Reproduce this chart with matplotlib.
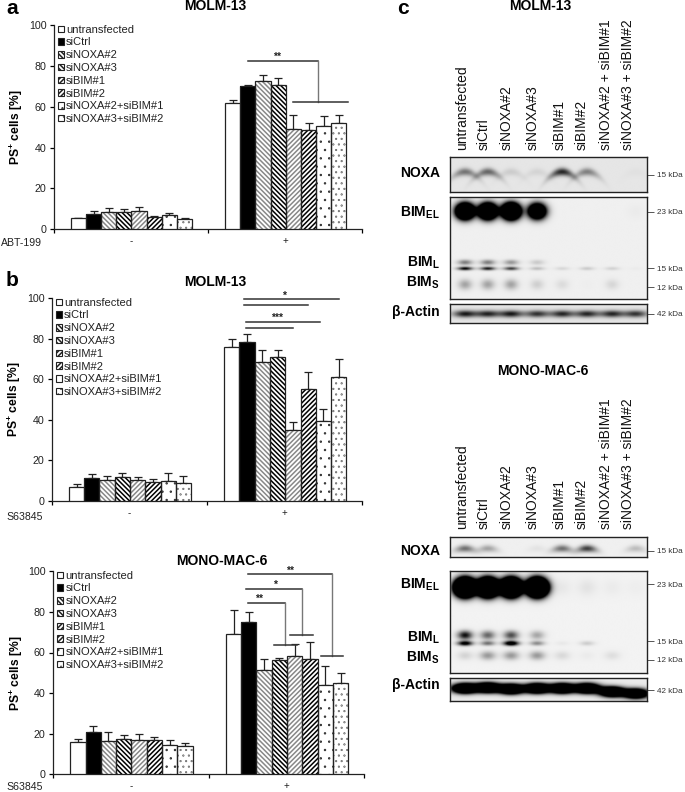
import numpy as np
import matplotlib
matplotlib.use("Agg")
import matplotlib.pyplot as plt
import matplotlib.hatch

plt.rcParams["font.family"] = ["Liberation Sans", "DejaVu Sans"]
plt.rcParams["mathtext.fontset"] = "custom"
plt.rcParams["mathtext.rm"] = "Liberation Sans"
plt.rcParams["mathtext.bf"] = "Liberation Sans:bold"
plt.rcParams["hatch.linewidth"] = 1.1
# the default "." dots are far too fat for this figure
matplotlib.hatch.SmallFilledCircles.size = 0.05

W, H = 685, 792

CONDITIONS = ["untransfected", "siCtrl", "siNOXA#2", "siNOXA#3", "siBIM#1", "siBIM#2",
              "siNOXA#2+siBIM#1", "siNOXA#3+siBIM#2"]
BLOT_LANES = ["untransfected", "siCtrl", "siNOXA#2", "siNOXA#3", "siBIM#1", "siBIM#2",
              "siNOXA#2 + siBIM#1", "siNOXA#3 + siBIM#2"]

# bar values, minus group then plus group
a_minus = [5.2, 7.5, 8.2, 8.2, 8.8, 5.8, 6.8, 4.8]
a_minus_err = [0.3, 1.3, 2.0, 1.8, 1.9, 0.7, 1.3, 0.4]
a_plus = [62, 70, 72.5, 70.5, 49, 48.5, 50.8, 52]
a_plus_err = [1.2, 0.6, 3.3, 3.4, 7, 3.7, 4.5, 3.9]

b_minus = [7, 11, 10.2, 11.7, 10, 9.3, 9.8, 8.5]
b_minus_err = [1.1, 2, 2, 1.9, 1.8, 1.4, 3.8, 3.5]
b_plus = [76, 78.5, 68.5, 71, 35, 55, 39.5, 61]
b_plus_err = [3.7, 4, 6.2, 3.4, 3.7, 8.7, 5.7, 9.2]

m_minus = [16, 20.8, 16.3, 17.2, 16.8, 16.7, 14.5, 13.8]
m_minus_err = [1.2, 2.8, 4.4, 2.4, 3.2, 1.8, 2.5, 1.4]
m_plus = [69, 75, 51.5, 56.3, 58.5, 57, 44, 45]
m_plus_err = [12, 5, 5.5, 1.2, 5.5, 8, 9.3, 4.7]

# blot band strengths per lane
molm_noxa = [0.45, 0.5, 0.1, 0.07, 0.75, 0.4, 0.0, 0.02]
molm_el = [3.8, 3.8, 4.4, 2.8, 0.0, 0.0, 0.0, 0.02]
molm_l_up = [0.45, 0.45, 0.35, 0.15, 0.0, 0.0, 0.0, 0.0]
molm_l = [0.95, 0.85, 0.7, 0.2, 0.1, 0.15, 0.12, 0.02]
molm_s = [0.3, 0.3, 0.3, 0.13, 0.08, 0.01, 0.1, 0.0]
molm_actin = [0.8, 0.75, 0.8, 0.7, 0.75, 0.75, 0.75, 0.7]

mono_noxa = [0.5, 0.3, 0.0, 0.05, 0.5, 0.7, 0.0, 0.2]
mono_el = [6, 6, 6, 6, 0.04, 0.06, 0.03, 0.02]
mono_l_up = [0.9, 0.55, 0.65, 0.3, 0.0, 0.0, 0.0, 0.0]
mono_l = [1.1, 0.5, 1.3, 0.4, 0.04, 0.15, 0.0, 0.0]
mono_s = [0.12, 0.35, 0.35, 0.35, 0.1, 0.03, 0.08, 0.0]
mono_actin = [3, 3, 3, 3, 3, 3, 3, 2.6]
mono_actin_y = [0.45, 0.42, 0.48, 0.45, 0.45, 0.45, 0.6, 0.68]

HATCHES = [None, None, "\\" * 7, "\\" * 7, "/" * 7, "/" * 7, "..", "..."]
HATCH_COLORS = ["white", "black", "#888888", "black", "#888888", "black", "#222222", "#444444"]
FACES = ["white", "black", "white", "white", "white", "white", "white", "white"]
BAR_W = 0.0985
TEXT_COLOR = "#222222"
LANE_X = [0.075, 0.19, 0.308, 0.44, 0.567, 0.693, 0.82, 0.94]

fig = plt.figure(figsize=(W / 100, H / 100), dpi=100)


def px_axes(left, top, right, bottom):
    return fig.add_axes([left / W, 1 - bottom / H, (right - left) / W, (bottom - top) / H])


def px_text(x, y, s, **kw):
    kw.setdefault("va", "center")
    kw.setdefault("ha", "center")
    kw.setdefault("color", "black")
    fig.text(x / W, 1 - y / H, s, **kw)


def draw_bars(ax, center, values, errs):
    for i, (v, e) in enumerate(zip(values, errs)):
        x = center + (i - 3.5) * BAR_W
        ax.errorbar(x, v, yerr=[[0], [e]], color="#222222", lw=0.9, capsize=2.8,
                    capthick=0.9, zorder=2)
        ax.bar(x, v, BAR_W, color=FACES[i], edgecolor=HATCH_COLORS[i], hatch=HATCHES[i],
               linewidth=0, zorder=3)
        ax.bar(x, v, BAR_W, fill=False, edgecolor="#222222", linewidth=0.9, zorder=4)


def bar_panel(box, minus, minus_err, plus, plus_err, treatment, treat_x, treat_y):
    ax = px_axes(*box)
    draw_bars(ax, 0.503, minus, minus_err)
    draw_bars(ax, 1.505, plus, plus_err)
    ax.set_xlim(0, 2)
    ax.set_ylim(0, 100)
    ax.set_yticks([0, 20, 40, 60, 80, 100])
    ax.set_xticks([0, 1, 2])
    ax.set_xticklabels([])
    ax.set_xticks([0.5, 1.5], ["-", "+"], minor=True)
    ax.tick_params(axis="x", which="major", length=3, width=0.9)
    ax.tick_params(axis="x", which="minor", length=0, pad=5, labelsize=7, labelcolor=TEXT_COLOR)
    ax.tick_params(axis="y", length=3, width=0.9, pad=2.5, labelsize=7.7, labelcolor=TEXT_COLOR)
    for side in ["top", "right"]:
        ax.spines[side].set_visible(False)
    for side in ["left", "bottom"]:
        ax.spines[side].set_linewidth(0.9)
        ax.spines[side].set_color("#222222")
    ax.set_ylabel(r"PS$^{\mathbf{+}}$ cells [%]", fontsize=8.7, fontweight="bold", labelpad=2.5)
    handles = [plt.Rectangle((0, 0), 1, 1, facecolor=FACES[i],
                             edgecolor="#222222", hatch=HATCHES[i], linewidth=0.8)
               for i in range(8)]
    ax.legend(handles, CONDITIONS, loc="upper left", bbox_to_anchor=(0.013, 1.003), frameon=False,
              fontsize=8, borderpad=0, borderaxespad=0, handlelength=0.52, handleheight=0.52,
              handletextpad=0.2, labelspacing=0.25, labelcolor=TEXT_COLOR)
    px_text(treat_x, treat_y, treatment, fontsize=7.6, ha="left", color=TEXT_COLOR)
    return ax


def hline(ax, x0, x1, y):
    ax.plot([x0, x1], [y, y], color="#333333", lw=1.1, clip_on=False, zorder=5)


def bracket(ax, x0, x1, y_top, x_drop, x2, x3, y_low):
    hline(ax, x0, x1, y_top)
    ax.plot([x_drop, x_drop], [y_top, y_low], color="#777777", lw=1.0, clip_on=False, zorder=5)
    hline(ax, x2, x3, y_low)


def stars(ax, x, y, s):
    ax.text(x, y, s, ha="center", va="center", fontsize=7.5, fontweight="bold", color="#222222")


def blot_panel(box, bands, bg, ticks):
    ax = px_axes(*box)
    xs = np.linspace(0, 1, 300)
    ys = np.linspace(0, 1, max(40, int((box[3] - box[1]) * 3)))
    xx, yy = np.meshgrid(xs, ys)
    dark = np.zeros_like(xx)
    for strengths, y0, sx, sy, arc in bands:
        for cx, amp, y_lane in zip(LANE_X, strengths, np.broadcast_to(y0, 8)):
            yc = y_lane + arc * ((xx - cx) / sx) ** 2
            dark += amp * np.exp(-((xx - cx) / sx) ** 2 / 2 - ((yy - yc) / sy) ** 2 / 2)
    ax.imshow(np.clip(1 - bg - dark, 0, 1), cmap="gray", vmin=0, vmax=1, aspect="auto",
              extent=[0, 1, 1, 0], interpolation="bilinear")
    ax.set_xticks([])
    ax.yaxis.tick_right()
    ax.set_yticks([t[0] for t in ticks], [t[1] for t in ticks])
    ax.tick_params(axis="y", length=5, width=0.7, color="#555555", pad=2,
                   labelsize=5.9, labelcolor="#333333")
    for s in ax.spines.values():
        s.set_linewidth(1.0)
        s.set_color("#222222")
    return ax


# panel a
ax_a = bar_panel((54, 25.3, 362, 229), a_minus, a_minus_err, a_plus, a_plus_err, "ABT-199", 1, 243)
bracket(ax_a, 1.258, 1.716, 82.6, 1.716, 1.554, 1.907, 62.5)
stars(ax_a, 1.446, 84.5, "**")

# panel b top
ax_b = bar_panel((52, 298.3, 362, 500.7), b_minus, b_minus_err, b_plus, b_plus_err, "S63845", 6, 516.5)
hline(ax_b, 1.241, 1.854, 99.8)
hline(ax_b, 1.241, 1.649, 96.7)
hline(ax_b, 1.250, 1.731, 88.3)
hline(ax_b, 1.250, 1.553, 85.3)
stars(ax_b, 1.494, 101, "*")
stars(ax_b, 1.449, 90.5, "***")

# panel b bottom
ax_m = bar_panel((53.3, 571.3, 364, 774.3), m_minus, m_minus_err, m_plus, m_plus_err, "S63845", 6, 787)
bracket(ax_m, 1.252, 1.794, 98.5, 1.794, 1.721, 1.867, 58.3)
bracket(ax_m, 1.242, 1.601, 91.1, 1.601, 1.526, 1.670, 68.8)
bracket(ax_m, 1.252, 1.492, 84.6, 1.492, 1.423, 1.566, 63.7)
stars(ax_m, 1.522, 100, "**")
stars(ax_m, 1.424, 93.5, "*")
stars(ax_m, 1.321, 86.5, "**")

# blots, MOLM-13
blot_panel((449.7, 156.7, 647.3, 191.7), [(molm_noxa, 0.44, 0.042, 0.075, 0.06)], 0.1,
           [(0.52, "15 kDa")])
blot_panel((449.7, 196.7, 647.3, 299),
           [(molm_el, 0.147, 0.03, 0.05, 0.0), (molm_l_up, 0.645, 0.026, 0.018, 0.0),
            (molm_l, 0.705, 0.026, 0.012, 0.0), (molm_s, 0.86, 0.024, 0.035, 0.0)], 0.06,
           [(0.147, "23 kDa"), (0.70, "15 kDa"), (0.886, "12 kDa")])
blot_panel((449.7, 304.3, 647.3, 323.3), [(molm_actin, 0.52, 0.042, 0.13, 0.0)], 0.1,
           [(0.51, "42 kDa")])

# blots, MONO-MAC-6
blot_panel((449.7, 536.7, 647.3, 557.3), [(mono_noxa, 0.6, 0.034, 0.12, 0.03)], 0.06,
           [(0.69, "15 kDa")])
blot_panel((449.7, 571, 647.3, 672.7),
           [(mono_el, 0.16, 0.033, 0.056, 0.0), (mono_l_up, 0.63, 0.026, 0.03, 0.0),
            (mono_l, 0.71, 0.026, 0.016, 0.0), (mono_s, 0.83, 0.028, 0.03, 0.0)], 0.05,
           [(0.13, "23 kDa"), (0.69, "15 kDa"), (0.875, "12 kDa")])
blot_panel((449.7, 678, 647.3, 700.7), [(mono_actin, mono_actin_y, 0.042, 0.14, 0.0)], 0.08,
           [(0.53, "42 kDa")])

# lane labels
LABEL_X = [462, 483.5, 507, 533, 560, 582, 606, 627.5]
for bottom in [150, 529]:
    for x, name in zip(LABEL_X, BLOT_LANES):
        px_text(x, bottom, name, rotation=90, va="bottom", fontsize=10, color="#111111")

# blot row labels
for y, s in [(173, "NOXA"), (213, r"BIM$_{\mathbf{EL}}$"), (263, r"BIM$_{\mathbf{L}}$"),
             (283, r"BIM$_{\mathbf{S}}$"), (312, "β-Actin"),
             (551, "NOXA"), (585, r"BIM$_{\mathbf{EL}}$"), (638, r"BIM$_{\mathbf{L}}$"),
             (658, r"BIM$_{\mathbf{S}}$"), (685, "β-Actin")]:
    px_text(440, y, s, ha="right", fontsize=10, fontweight="bold")

# titles
px_text(215.5, 6.5, "MOLM-13", fontsize=10, fontweight="bold")
px_text(215, 282, "MOLM-13", fontsize=10, fontweight="bold")
px_text(222, 561, "MONO-MAC-6", fontsize=10, fontweight="bold")
px_text(540, 6.5, "MOLM-13", fontsize=10, fontweight="bold")
px_text(543, 371, "MONO-MAC-6", fontsize=10, fontweight="bold")

# panel letters
px_text(12.5, 9, "a", fontsize=15, fontweight="bold")
px_text(12.5, 280, "b", fontsize=15, fontweight="bold")
px_text(403, 9, "c", fontsize=15, fontweight="bold")

fig.savefig("out.png", dpi=100)
